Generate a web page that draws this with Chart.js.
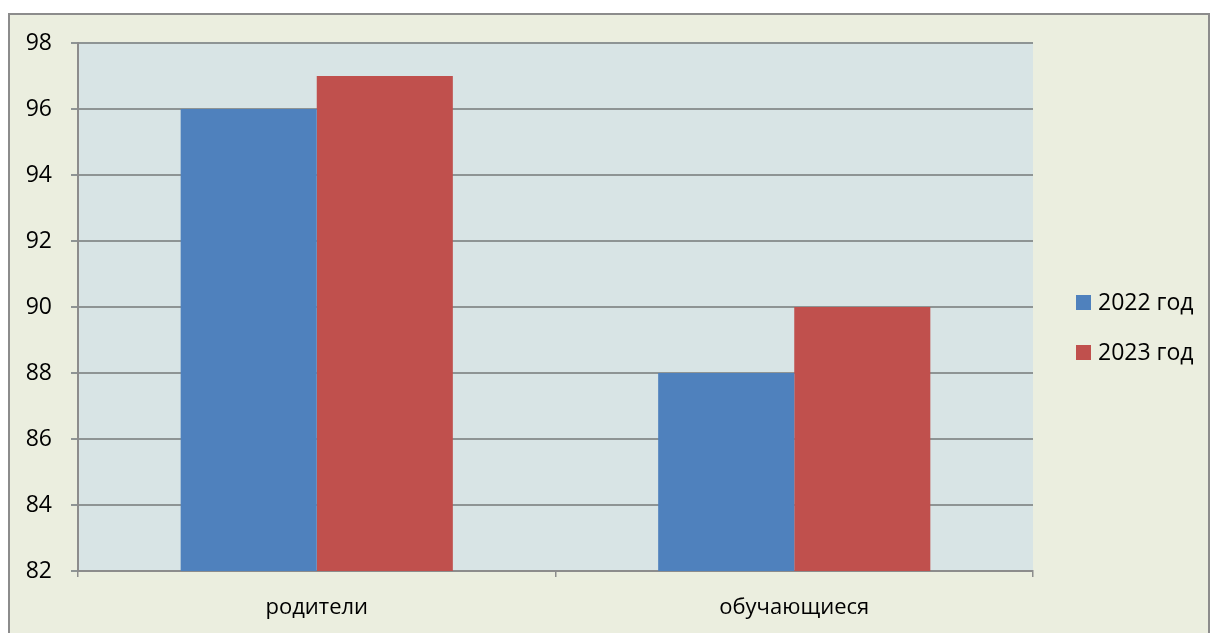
<!DOCTYPE html>
<html>
<head>
<meta charset="utf-8">
<script src="https://cdn.jsdelivr.net/npm/chart.js@4/dist/chart.umd.min.js"></script>
<style>
  html, body { margin: 0; padding: 0; background: #ffffff; }
  #wrap { width: 1211px; height: 633px; position: relative; }
</style>
</head>
<body>
<div id="wrap"><canvas id="myChart" width="1211" height="633"></canvas></div>
<script>
var categories = ["родители", "обучающиеся"];
var seriesNames = ["2022 год", "2023 год"];
var values2022 = [96, 88];
var values2023 = [97, 90];
var yTicks = [82, 84, 86, 88, 90, 92, 94, 96, 98];

var colors = ["#4f81bd", "#c0504d"];
var fontName = "'Open Sans', 'Liberation Sans', sans-serif";

// frame, background and plot fill
var backdrop = {
  id: "backdrop",
  beforeDraw: (chart) => {
    const ctx = chart.ctx;
    const a = chart.chartArea;
    ctx.save();
    ctx.fillStyle = "#ffffff";
    ctx.fillRect(0, 0, chart.width, chart.height);
    ctx.fillStyle = "#ebeedf";
    ctx.fillRect(9, 14, 1200, 640);
    ctx.strokeStyle = "#8c8c8c";
    ctx.lineWidth = 2;
    ctx.strokeRect(9, 14, 1200, 640);
    ctx.fillStyle = "#d8e4e5";
    ctx.fillRect(a.left, a.top, a.right - a.left, a.bottom - a.top);
    ctx.restore();
  },
};

// legend on the right
var sideLegend = {
  id: "sideLegend",
  afterDraw: (chart) => {
    const ctx = chart.ctx;
    ctx.save();
    ctx.font = "23px " + fontName;
    ctx.textBaseline = "middle";
    chart.data.datasets.forEach((ds, i) => {
      const y = 302 + i * 50;
      ctx.fillStyle = ds.backgroundColor;
      ctx.fillRect(1076, y - 7, 15, 15);
      ctx.fillStyle = "#000000";
      ctx.fillText(ds.label, 1098, y + 1);
    });
    ctx.restore();
  },
};

var ctx = document.getElementById("myChart").getContext("2d");
var myChart = new Chart(ctx, {
  type: "bar",
  data: {
    labels: categories,
    datasets: [
      { label: seriesNames[0], data: values2022, backgroundColor: colors[0] },
      { label: seriesNames[1], data: values2023, backgroundColor: colors[1] },
    ],
  },
  options: {
    responsive: false,
    animation: false,
    layout: { padding: { left: 0, top: 43, right: 178, bottom: 0 } },
    plugins: { legend: { display: false }, tooltip: { enabled: false } },
    datasets: { bar: { categoryPercentage: 0.57, barPercentage: 1.0 } },
    scales: {
      x: {
        afterFit: (scale) => { scale.height = 62; },
        grid: {
          offset: true,
          drawOnChartArea: false,
          color: "#8c8c8c",
          lineWidth: 1.5,
          tickLength: 6,
        },
        border: { color: "#8c8c8c", width: 2 },
        ticks: { color: "#000", font: { family: fontName, size: 22 }, padding: 18 },
      },
      y: {
        min: 82,
        max: 98,
        afterFit: (scale) => { scale.width = 78; },
        afterBuildTicks: (scale) => {
          scale.ticks = yTicks.map((v) => ({ value: v }));
        },
        grid: { color: "#8e9494", lineWidth: 2, tickLength: 7 },
        border: { color: "#8c8c8c", width: 2 },
        ticks: { color: "#000", font: { family: fontName, size: 23 }, padding: 19 },
      },
    },
  },
  plugins: [backdrop, sideLegend],
});
</script>
</body>
</html>
